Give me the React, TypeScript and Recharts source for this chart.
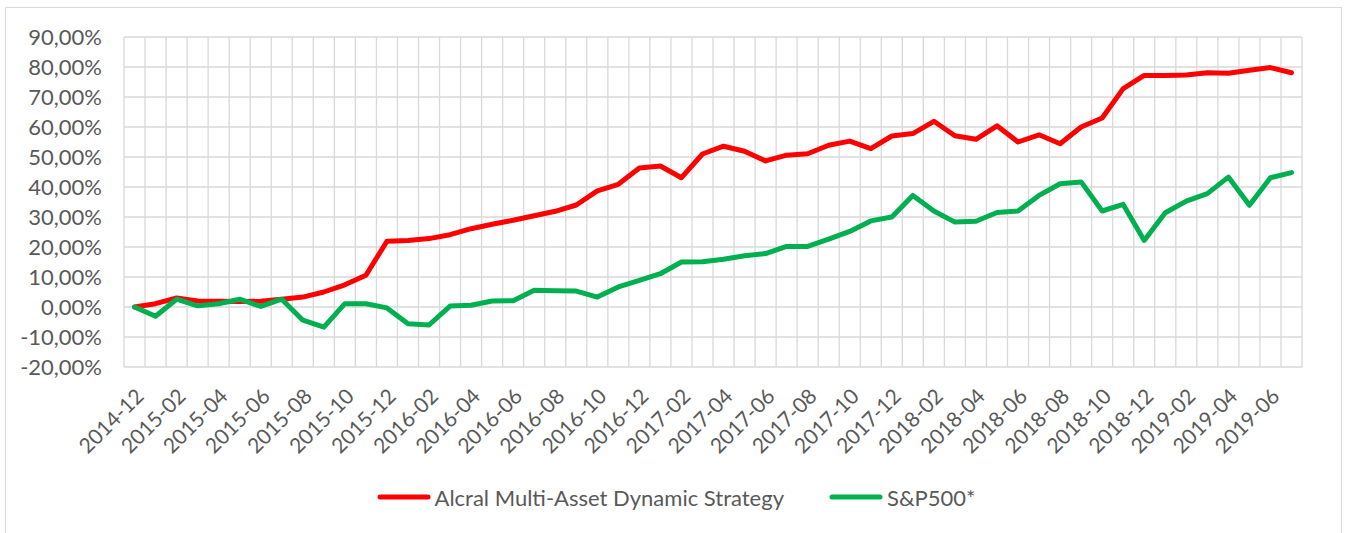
import { LineChart, Line, XAxis, YAxis, CartesianGrid, Legend } from 'recharts'

const months = [
  '2014-12',
  '2015-01', '2015-02', '2015-03', '2015-04', '2015-05', '2015-06',
  '2015-07', '2015-08', '2015-09', '2015-10', '2015-11', '2015-12',
  '2016-01', '2016-02', '2016-03', '2016-04', '2016-05', '2016-06',
  '2016-07', '2016-08', '2016-09', '2016-10', '2016-11', '2016-12',
  '2017-01', '2017-02', '2017-03', '2017-04', '2017-05', '2017-06',
  '2017-07', '2017-08', '2017-09', '2017-10', '2017-11', '2017-12',
  '2018-01', '2018-02', '2018-03', '2018-04', '2018-05', '2018-06',
  '2018-07', '2018-08', '2018-09', '2018-10', '2018-11', '2018-12',
  '2019-01', '2019-02', '2019-03', '2019-04', '2019-05', '2019-06',
  '2019-07',
]

// cumulative return, %
const strategy = [
  0, 1.1, 3.0, 2.0, 1.9, 1.8, 1.9, 2.6, 3.3, 5.0,
  7.4, 10.6, 21.9, 22.2, 22.8, 24.1, 26.1, 27.6, 28.9, 30.4,
  31.9, 34.0, 38.7, 40.9, 46.3, 47.0, 43.1, 51.0, 53.6, 51.9,
  48.7, 50.6, 51.1, 53.9, 55.3, 52.8, 57.0, 57.8, 61.9, 57.1,
  55.9, 60.4, 55.0, 57.4, 54.4, 60.0, 63.0, 72.8, 77.2, 77.2,
  77.3, 78.1, 77.9, 78.9, 79.8, 78.1,
]

const sp500 = [
  0, -3.1, 2.6, 0.4, 1.1, 2.6, 0.2, 2.6, -4.4, -6.7,
  1.1, 1.1, -0.3, -5.6, -6.0, 0.3, 0.6, 2.0, 2.1, 5.6,
  5.4, 5.3, 3.3, 6.7, 8.9, 11.1, 15.0, 15.1, 15.9, 17.1,
  17.8, 20.2, 20.2, 22.6, 25.2, 28.7, 30.0, 37.2, 32.0, 28.3,
  28.6, 31.5, 32.0, 37.2, 41.1, 41.7, 32.0, 34.2, 22.2, 31.4,
  35.3, 37.8, 43.3, 33.9, 43.1, 44.8,
]

const yTicks = [-20, -10, 0, 10, 20, 30, 40, 50, 60, 70, 80, 90]

const seriesNames = ['Alcral Multi-Asset Dynamic Strategy', 'S&P500*']

const data = months.map((m, i) => ({
  month: m,
  strategy: strategy[i],
  sp500: sp500[i],
}))

const fmtPct = (v: number) => `${v.toFixed(2).replace('.', ',')}%`

const textColor = '#595959'

function LegendContent({ payload }: any) {
  return (
    <div style={{ display: 'flex', justifyContent: 'center', alignItems: 'center', height: 30, paddingLeft: 50 }}>
      {(payload || []).map((p: any, i: number) => (
        <div key={p.value} style={{ display: 'flex', alignItems: 'center', marginLeft: i > 0 ? 45 : 0 }}>
          <svg width={54} height={8} style={{ marginRight: 4 }}>
            <line x1={3} y1={4} x2={51} y2={4} stroke={p.color} strokeWidth={5} strokeLinecap="round" />
          </svg>
          <span style={{ color: textColor, fontSize: 22 }}>{p.value}</span>
        </div>
      ))}
    </div>
  )
}

export default function App() {
  return (
    <div style={{ position: 'absolute', left: 0, top: 0, width: 1346, height: 533, background: '#fff', overflow: 'hidden', fontFamily: 'Lato, sans-serif' }}>
      <div style={{ position: 'absolute', left: 5, top: 7, width: 1335, height: 540, border: '1px solid #d9d9d9' }} />
      <div style={{ position: 'absolute', left: 0, top: 0 }}>
        <LineChart width={1346} height={533} data={data} margin={{ top: 37, right: 44, bottom: 21, left: 0 }}>
          <CartesianGrid
            stroke="#d9d9d9"
            strokeWidth={1.3}
            verticalCoordinatesGenerator={({ offset }: any) =>
              Array.from({ length: months.length + 1 }, (_, k) => offset.left + (k * offset.width) / months.length)
            }
          />
          <XAxis
            dataKey="month"
            scale="band"
            interval={1}
            angle={-45}
            textAnchor="end"
            height={115}
            tickSize={0}
            tickMargin={20}
            tickLine={false}
            axisLine={false}
            tick={{ fontSize: 21, fill: textColor }}
          />
          <YAxis
            domain={[-20, 90]}
            ticks={yTicks}
            interval={0}
            tickFormatter={fmtPct}
            width={124}
            tickSize={0}
            tickMargin={22}
            tickLine={false}
            axisLine={false}
            tick={{ fontSize: 22, fill: textColor }}
          />
          <Legend verticalAlign="bottom" height={30} content={<LegendContent />} />
          <Line
            type="linear"
            dataKey="strategy"
            name={seriesNames[0]}
            stroke="#ff0000"
            strokeWidth={5}
            strokeLinejoin="round"
            strokeLinecap="round"
            dot={false}
            isAnimationActive={false}
          />
          <Line
            type="linear"
            dataKey="sp500"
            name={seriesNames[1]}
            stroke="#00b050"
            strokeWidth={5}
            strokeLinejoin="round"
            strokeLinecap="round"
            dot={false}
            isAnimationActive={false}
          />
        </LineChart>
      </div>
    </div>
  )
}
